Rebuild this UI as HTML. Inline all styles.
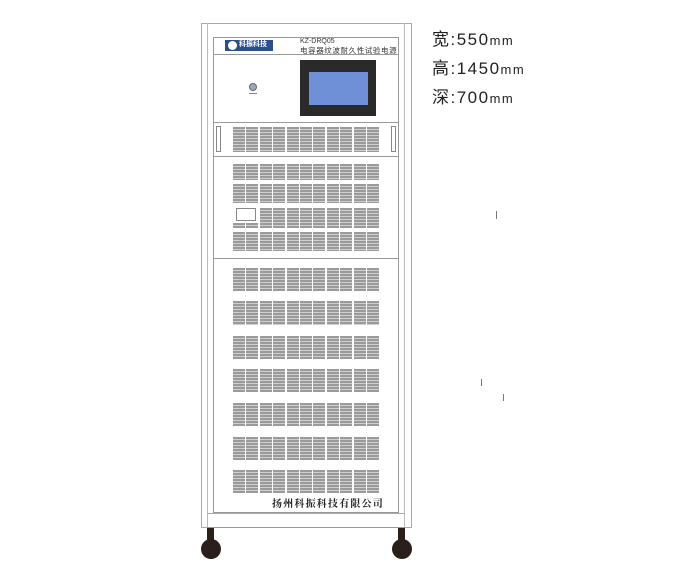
<!DOCTYPE html>
<html><head><meta charset="utf-8"><style>
body{margin:0;width:700px;height:567px;background:#fff;position:relative;overflow:hidden;font-family:"Liberation Sans","Noto Sans CJK SC",sans-serif}
div{position:absolute;box-sizing:border-box}
.g{width:12px;background:repeating-linear-gradient(#9a9a9a 0,#9a9a9a 2px,#cfcfcf 2px,#cfcfcf 3px)}
</style></head><body>
<div style="left:201px;top:23px;width:211px;height:505px;border:1px solid #aaa"></div>
<div style="left:207px;top:23px;width:198px;height:505px;border-left:1px solid #bbb;border-right:1px solid #bbb"></div>
<div style="left:213px;top:37px;width:186px;height:476px;border:1px solid #999"></div>
<div style="left:213px;top:54px;width:186px;height:1px;background:#999"></div>
<div style="left:213px;top:122px;width:186px;height:35px;border:1px solid #999"></div>
<div style="left:216px;top:126px;width:5px;height:26px;border:1px solid #888"></div>
<div style="left:391px;top:126px;width:5px;height:26px;border:1px solid #888"></div>
<div style="left:213px;top:258px;width:186px;height:1px;background:#999"></div>
<div style="left:207px;top:513px;width:198px;height:15px;border-top:1px solid #aaa;border-bottom:1px solid #999"></div>
<div style="left:225px;top:40px;width:48px;height:11px;background:#2b4f8c"></div>
<div style="left:228px;top:41px;width:9px;height:9px;border-radius:50%;background:#fff"></div>
<div style="left:239px;top:40px;font-size:7px;color:#fff;font-weight:bold;line-height:9px">科振科技</div>
<div style="left:300px;top:38px;font-size:7px;color:#333;line-height:8px">KZ-DRQ05</div>
<div style="left:300px;top:46px;font-size:7.5px;color:#333;line-height:9px;letter-spacing:0.6px">电容器纹波耐久性试验电源</div>
<div style="left:249px;top:83px;width:8px;height:8px;border-radius:50%;border:1px solid #667;background:#9ab"></div>
<div style="left:249px;top:93px;width:8px;height:1px;background:#888"></div>
<div style="left:300px;top:60px;width:76px;height:56px;background:#2a2a2a"></div>
<div style="left:309px;top:72px;width:59px;height:33px;background:#6f8fd6"></div>
<div style="left:236px;top:208px;width:20px;height:13px;border:1px solid #888;background:#fff"></div>
<div id="v"></div>
<div style="left:272px;top:495px;font-family:'Noto Serif CJK SC',serif;font-weight:bold;font-size:10px;color:#222;letter-spacing:1.2px">扬州科振科技有限公司</div>
<div style="left:207px;top:528px;width:7px;height:14px;background:#2a1f1a"></div>
<div style="left:398px;top:528px;width:7px;height:14px;background:#2a1f1a"></div>
<div style="left:201px;top:539px;width:20px;height:20px;border-radius:50%;background:#2a1f1a"></div>
<div style="left:392px;top:539px;width:20px;height:20px;border-radius:50%;background:#2a1f1a"></div>
<div style="left:432px;top:26px;font-size:17px;line-height:28px;color:#222;letter-spacing:1.5px">宽:550<span style="font-size:13px">mm</span><br>高:1450<span style="font-size:13px">mm</span><br>深:700<span style="font-size:13px">mm</span></div>
<div style="left:496px;top:211px;width:1px;height:8px;background:#777"></div>
<div style="left:481px;top:379px;width:1px;height:7px;background:#777"></div>
<div style="left:503px;top:394px;width:1px;height:7px;background:#777"></div>
<script>
var rows=[[127,25],[164,16],[184,19],[208,20],[232,19],[268,23],[301,24],[336,23],[369,23],[403,23],[437,23],[470,23]];
var h='';
rows.forEach(function(r,ri){for(var i=0;i<11;i++){if(ri==3&&i<2){continue;}h+='<div class="g" style="left:'+(233+i*13.4).toFixed(1)+'px;top:'+r[0]+'px;height:'+r[1]+'px"></div>';}});
h+='<div class="g" style="left:233px;top:223px;height:5px"></div><div class="g" style="left:246.4px;top:223px;height:5px"></div>';
document.getElementById('v').outerHTML=h;
</script>
</body></html>
